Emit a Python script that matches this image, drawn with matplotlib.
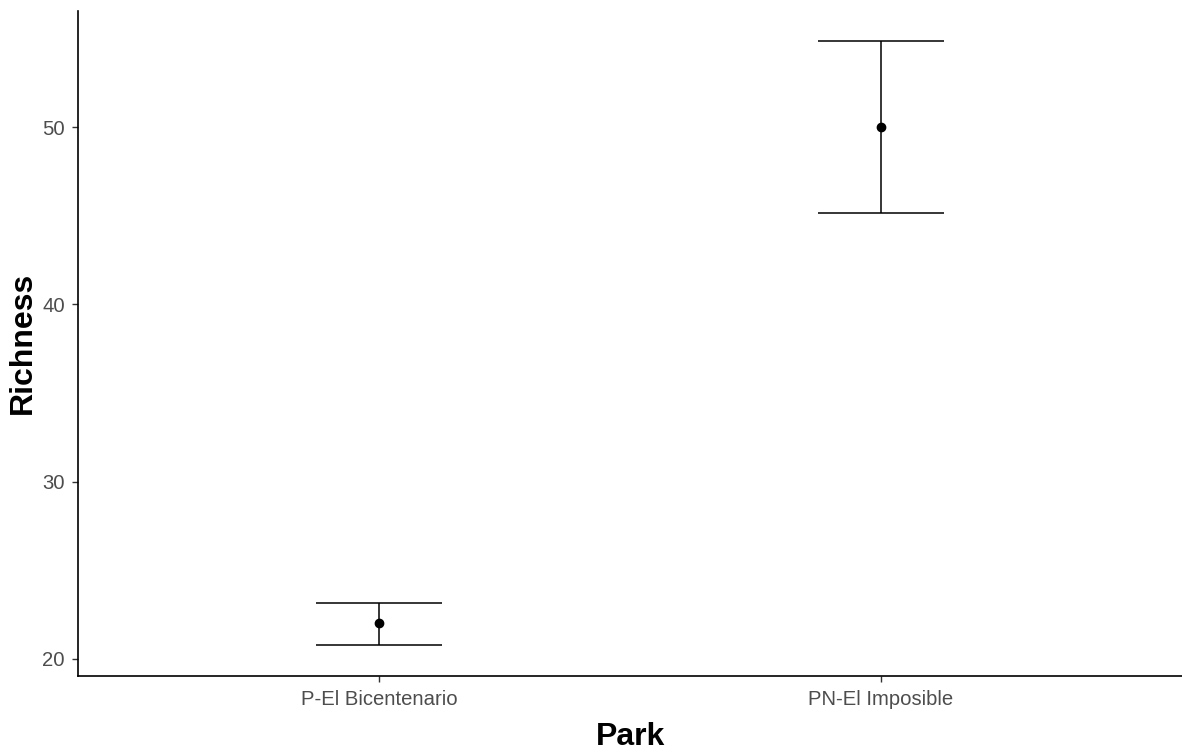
import numpy as np
import matplotlib.pyplot as plt

plt.rcParams['font.family'] = ['Liberation Sans', 'DejaVu Sans']

# Datos
parks = ['P-El Bicentenario', 'PN-El Imposible']
richness = [22.0, 50.0]
lower = [20.75, 45.14]
upper = [23.17, 54.84]

x = np.arange(1, len(parks) + 1)
mean = np.array(richness)
err = [mean - np.array(lower), np.array(upper) - mean]

fig = plt.figure(figsize=(11.82, 7.55), dpi=100)
ax = fig.add_axes([78 / 1182, 1 - 675.7 / 755, 1 - 78 / 1182, (675.7 - 11) / 755])

# barras de error con tapas anchas (width = 0.25)
ax.errorbar(x, mean, yerr=err, fmt='none', ecolor='black', elinewidth=1.1,
            capsize=0, zorder=2)
ax.hlines(lower, x - 0.125, x + 0.125, color='black', lw=1.1, zorder=2)
ax.hlines(upper, x - 0.125, x + 0.125, color='black', lw=1.1, zorder=2)
ax.plot(x, mean, 'o', color='black', ms=6, zorder=3)

rng = max(upper) - min(lower)
ax.set_ylim(min(lower) - 0.05 * rng, max(upper) + 0.05 * rng)
ax.set_xlim(0.4, len(parks) + 0.6)
ax.set_xticks(x)
ax.set_xticklabels(parks)
ax.set_yticks([20, 30, 40, 50])

for s in ['top', 'right']:
    ax.spines[s].set_visible(False)
for s in ['left', 'bottom']:
    ax.spines[s].set_linewidth(1.2)
    ax.spines[s].set_color('black')
ax.tick_params(axis='both', length=4.5, width=1.0, color='#333333',
               labelcolor='#4D4D4D', labelsize=14.6)
ax.tick_params(axis='x', pad=6)
ax.tick_params(axis='y', pad=5)

fig.text(23 / 1182, 1 - 343 / 755, 'Richness', rotation=90, ha='center',
         va='center', fontsize=23, fontweight='bold')
fig.text(630 / 1182, 1 - 745 / 755, 'Park', ha='center', va='baseline',
         fontsize=23, fontweight='bold')

fig.savefig('out.png', dpi=100)
